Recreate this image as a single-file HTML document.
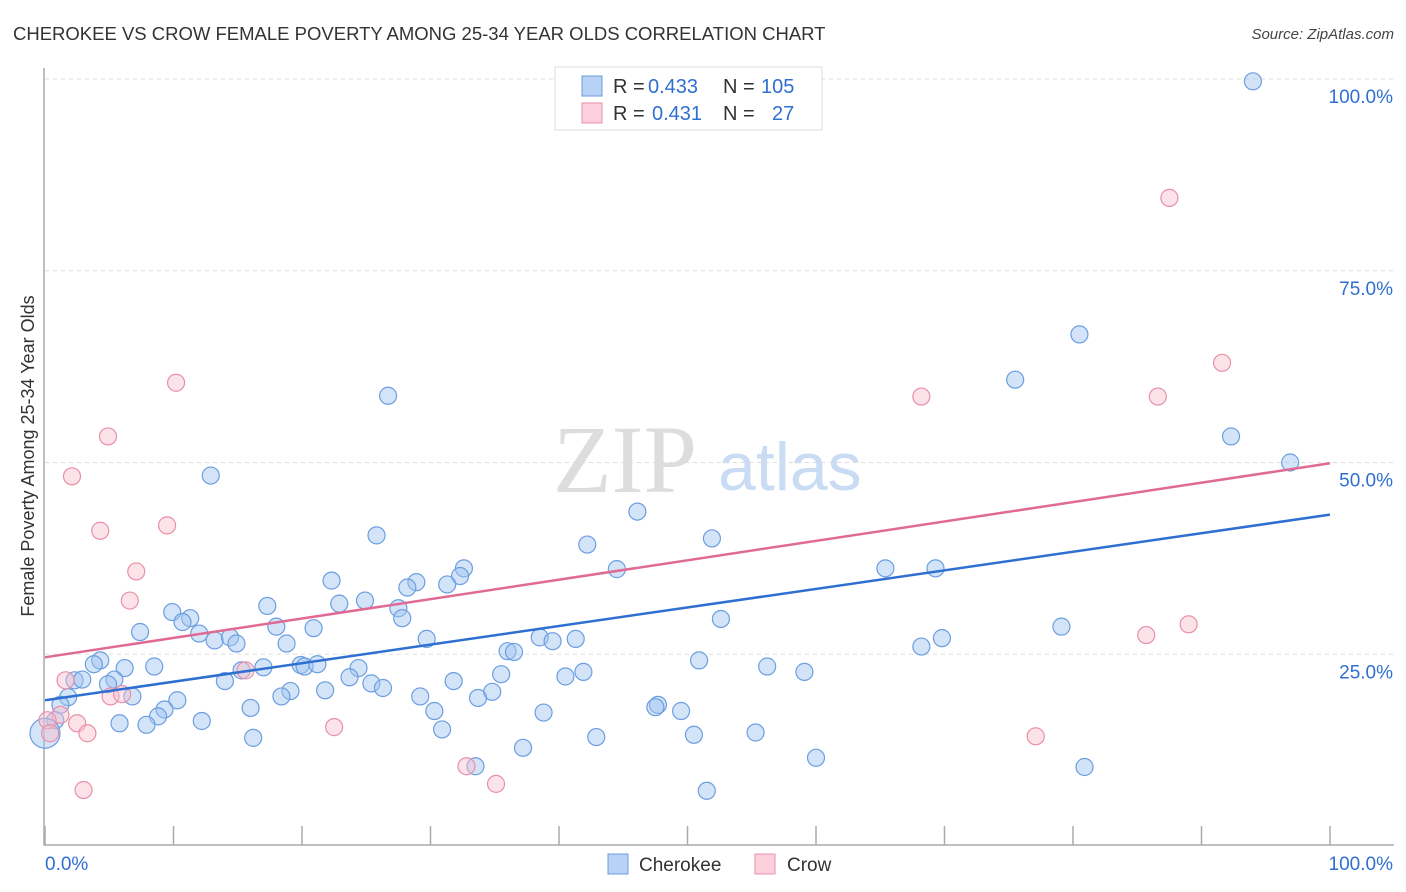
<!DOCTYPE html>
<html><head><meta charset="utf-8"><style>
body{margin:0;background:#fff;font-family:"Liberation Sans",sans-serif}
svg{display:block}
</style></head><body>
<svg id="chart" width="1406" height="892" xmlns="http://www.w3.org/2000/svg">
<text x="13" y="40" font-size="18.5" fill="#333">CHEROKEE VS CROW FEMALE POVERTY AMONG 25-34 YEAR OLDS CORRELATION CHART</text>
<text x="1394" y="39" font-size="15" fill="#444" font-style="italic" text-anchor="end">Source: ZipAtlas.com</text>
<text x="553" y="492" font-size="96" font-family="Liberation Serif" fill="#ddd">ZIP</text>
<text x="718" y="490" font-size="68" fill="#c9dcf3">atlas</text>
<g id="grid"></g>
<g id="axes"></g>
<g id="points"></g>
<g id="lines"></g>
<text transform="translate(34,456) rotate(-90)" font-size="18" fill="#333" text-anchor="middle">Female Poverty Among 25-34 Year Olds</text>
<g font-size="20">
<rect x="555" y="67" width="267" height="63" fill="#fff" stroke="#ddd"/>
<rect x="582" y="76" width="20" height="20" fill="#b8d2f5" stroke="#6b9ee0"/>
<rect x="582" y="103" width="20" height="20" fill="#fbd0dc" stroke="#e890a8"/>
<text x="613" y="93" fill="#333">R =</text>
<text x="648" y="93" fill="#2f6fd1">0.433</text>
<text x="723" y="93" fill="#333">N =</text>
<text x="761" y="93" fill="#2f6fd1">105</text>
<text x="613" y="120" fill="#333">R =</text>
<text x="652" y="120" fill="#2f6fd1">0.431</text>
<text x="723" y="120" fill="#333">N =</text>
<text x="772" y="120" fill="#2f6fd1">27</text>
</g>
<g>
<rect x="608" y="854" width="20" height="20" fill="#b8d2f5" stroke="#6b9ee0"/>
<text x="639" y="871" font-size="19" fill="#333">Cherokee</text>
<rect x="755" y="854" width="20" height="20" fill="#fbd0dc" stroke="#e890a8"/>
<text x="787" y="871" font-size="19" fill="#333">Crow</text>
</g>
</svg>
<script>
const cherokeeX=[94.0,80.5,75.5,92.3,96.9,26.7,12.9,25.8,46.1,51.9,42.2,44.5,65.4,69.3,32.6,32.3,31.3,28.9,28.2,22.3,24.9,22.9,17.3,27.5,27.8,9.9,11.3,10.7,12.0,7.4,18.0,20.9,52.6,79.1,13.2,14.4,14.9,18.8,29.7,38.5,39.5,41.3,69.8,68.2,36.0,36.5,4.3,3.8,6.2,8.5,15.3,17.0,19.9,20.2,21.2,24.4,35.5,40.5,41.9,50.9,56.2,59.1,2.3,2.9,5.4,4.9,14.0,23.7,25.4,26.3,31.8,19.1,18.4,21.8,29.2,34.8,33.7,1.8,6.8,10.3,1.2,9.3,16.0,47.7,47.5,49.5,38.8,30.3,8.8,0.8,5.8,7.9,12.2,30.9,16.2,42.9,50.5,55.3,37.2,60.0,80.9,33.5,51.5,0.0];
const cherokeeY=[99.7,66.7,60.8,53.4,50.0,58.7,48.3,40.5,43.6,40.1,39.3,36.1,36.2,36.2,36.2,35.2,34.1,34.4,33.7,34.6,32.0,31.6,31.3,31.0,29.7,30.5,29.7,29.2,27.7,27.9,28.6,28.4,29.6,28.6,26.8,27.2,26.4,26.4,27.0,27.2,26.7,27.0,27.1,26.0,25.4,25.3,24.2,23.7,23.2,23.4,22.9,23.3,23.6,23.4,23.7,23.2,22.4,22.1,22.7,24.2,23.4,22.7,21.6,21.7,21.7,21.1,21.5,22.0,21.2,20.6,21.5,20.2,19.5,20.3,19.5,20.1,19.3,19.4,19.5,19.0,18.4,17.8,18.0,18.4,18.1,17.6,17.4,17.6,16.9,16.4,16.0,15.8,16.3,15.2,14.1,14.2,14.5,14.8,12.8,11.5,10.3,10.4,7.2,14.7];
const crowX=[87.5,91.6,68.2,86.6,10.2,4.9,2.1,9.5,4.3,7.1,6.6,85.7,89.0,15.6,1.6,5.1,6.0,1.2,2.5,3.3,22.5,77.1,32.8,35.1,3.0,0.2,0.4];
const crowY=[84.5,63.0,58.6,58.6,60.4,53.4,48.2,41.8,41.1,35.8,32.0,27.5,28.9,22.9,21.6,19.5,19.8,17.1,16.0,14.7,15.5,14.3,10.4,8.1,7.3,16.4,14.7];
const trendStart=[19.0,24.6];
const trendEnd=[43.2,49.9];
const yTicks=[25,50,75,100];
const yTickLabels=["25.0%","50.0%","75.0%","100.0%"];
const xTicks=[0,10,20,30,40,50,60,70,80,90,100];
const NS="http://www.w3.org/2000/svg";
const X=v=>45+v*12.85, Y=v=>846-v*7.67;
function mk(tag,attrs,parent){const e=document.createElementNS(NS,tag);for(const k in attrs)e.setAttribute(k,attrs[k]);parent.appendChild(e);return e;}
const grid=document.getElementById('grid'),axes=document.getElementById('axes'),pts=document.getElementById('points'),lines=document.getElementById('lines');
yTicks.forEach((t,i)=>{
 const l=mk('line',{x1:45,x2:1394,y1:Y(t),y2:Y(t),stroke:'#ddd','stroke-dasharray':'4,4'},grid);
 
 
 const tx=mk('text',{x:1393,y:Y(t)+24,'font-size':19,fill:'#2f6fd1','text-anchor':'end'},axes);
 tx.textContent=yTickLabels[i];
 
 
});
const ax=mk('path',{d:'M44,68 V845 H1394',fill:'none',stroke:'#aaa','stroke-width':1.5},axes);


xTicks.forEach(t=>{
 const l=mk('line',{x1:X(t),x2:X(t),y1:826,y2:845,stroke:'#aaa','stroke-width':1.5},axes);
 
 
});
[[45,'start','0.0%'],[1393,'end','100.0%']].forEach(a=>{
 const tx=mk('text',{x:a[0],y:870,'font-size':19,fill:'#2f6fd1','text-anchor':a[1]},axes);
 tx.textContent=a[2];
 
 
});
cherokeeX.forEach((x,i)=>{
 const big=(x===0);
 const c=mk('circle',{cx:X(x),cy:Y(cherokeeY[i]),r:big?15:8.5,fill:'rgba(160,196,240,0.45)',stroke:'#6b9ee0','stroke-width':1.2},pts);
 
 
});
crowX.forEach((x,i)=>{
 const c=mk('circle',{cx:X(x),cy:Y(crowY[i]),r:8.5,fill:'rgba(248,190,206,0.45)',stroke:'#e890a8','stroke-width':1.2},pts);
 
 
});
const cols=['#2f6fd1','#e06a94'],nm=['cherokee-trend-line','crow-trend-line'];
[0,1].forEach(i=>{
 const l=mk('line',{x1:X(0),y1:Y(trendStart[i]),x2:X(100),y2:Y(trendEnd[i]),stroke:cols[i],'stroke-width':2.5},lines);
 
 
});
</script>
</body></html>
